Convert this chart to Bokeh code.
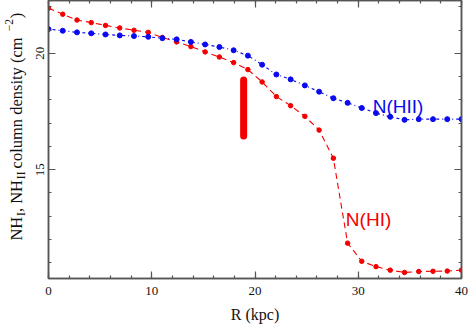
import math
from bokeh.plotting import figure
from bokeh.layouts import row
from bokeh.models import (LinearAxis, SingleIntervalTicker, Range1d, Label,
                          ColumnDataSource)
from bokeh.core.properties import value
from bokeh.embed import file_html
from bokeh.resources import INLINE

# ---------------- data ----------------
R_kpc = [0.0, 1.38, 2.76, 4.14, 5.52, 6.90, 8.28, 9.66, 11.03, 12.41,
         13.79, 15.17, 16.55, 17.93, 19.31, 20.69, 22.07, 23.45, 24.83, 26.21,
         27.59, 28.97, 30.34, 31.72, 33.10, 34.48, 35.86, 37.24, 38.62, 40.0]
N_HI = [21.94, 21.68, 21.43, 21.32, 21.20, 21.09, 20.99, 20.90, 20.68, 20.49,
        20.29, 20.06, 19.84, 19.60, 19.30, 18.77, 18.14, 17.75, 17.29, 16.70,
        15.49, 11.84, 11.06, 10.83, 10.68, 10.58, 10.62, 10.63, 10.64, 10.68]
N_HII = [21.04, 20.97, 20.90, 20.86, 20.81, 20.77, 20.74, 20.71, 20.65, 20.60,
         20.49, 20.38, 20.27, 20.13, 19.90, 19.51, 19.09, 18.88, 18.62, 18.35,
         18.07, 17.87, 17.65, 17.43, 17.27, 17.14, 17.17, 17.17, 17.17, 17.17]
bar_x = [18.9]
bar_low = [16.45]
bar_high = [18.85]
label_HII = ("N(HII)", 31.4, 17.73)
label_HI = ("N(HI)", 28.8, 12.87)

RED = "#f40000"
BLUE = "#0a0aee"
AX = "#555555"
SERIF = "Liberation Serif"
TXT = "#111111"

WL = 28      # width of the strip holding the y-axis title
H = 330
Y0, Y1 = 10.32, 22.27

p = figure(width=471 - WL, height=H, output_backend="svg", toolbar_location=None,
           x_range=Range1d(0, 40), y_range=Range1d(Y0, Y1),
           min_border_left=48 - WL, min_border_right=10, min_border_top=0,
           min_border_bottom=52, x_axis_location=None, y_axis_location=None)
p.grid.visible = False
p.outline_line_color = AX
p.outline_line_width = 1.5
p.background_fill_color = "white"
p.border_fill_color = "white"

def style(ax, labels=True):
    ax.axis_line_color = AX
    ax.axis_line_width = 1.5
    ax.major_tick_line_color = AX
    ax.minor_tick_line_color = AX
    ax.major_tick_line_width = 1.2
    ax.minor_tick_line_width = 1.2
    ax.major_tick_in = 7
    ax.major_tick_out = 0
    ax.minor_tick_in = 3
    ax.minor_tick_out = 0
    if labels:
        ax.major_label_text_font = SERIF
        ax.major_label_text_font_size = "13px"
        ax.major_label_text_color = TXT
    else:
        ax.major_label_text_font_size = "1px"
        ax.major_label_text_color = None
        ax.major_label_standoff = 0

xb = LinearAxis(ticker=SingleIntervalTicker(interval=10, num_minor_ticks=5))
style(xb)
xb.major_label_standoff = 8
xb.axis_label = "R (kpc)"
xb.axis_label_text_font = SERIF
xb.axis_label_text_font_size = "16px"
xb.axis_label_text_font_style = "normal"
xb.axis_label_text_color = TXT
xb.axis_label_standoff = 8
p.add_layout(xb, "below")

xt = LinearAxis(ticker=SingleIntervalTicker(interval=10, num_minor_ticks=5))
style(xt, labels=False)
p.add_layout(xt, "above")

yl = LinearAxis(ticker=SingleIntervalTicker(interval=5, num_minor_ticks=5))
style(yl)
yl.major_label_orientation = "vertical"
yl.major_label_standoff = 4
p.add_layout(yl, "left")

yr = LinearAxis(ticker=SingleIntervalTicker(interval=5, num_minor_ticks=5))
style(yr, labels=False)
p.add_layout(yr, "right")

src = ColumnDataSource(dict(r=R_kpc, hi=N_HI, hii=N_HII))
p.line("r", "hi", source=src, line_color=RED, line_width=1.1, line_dash="6 4")
p.scatter("r", "hi", source=src, size=4.5, fill_color=RED, line_color=RED)
p.line("r", "hii", source=src, line_color=BLUE, line_width=1.1, line_dash="1 3 3 3")
p.scatter("r", "hii", source=src, size=5, fill_color=BLUE, line_color=BLUE)

p.segment(x0=bar_x, y0=bar_low, x1=bar_x, y1=bar_high, line_color=RED,
          line_width=7, line_cap="round")

for (txt, lx, ly), col in ((label_HII, BLUE), (label_HI, RED)):
    p.add_layout(Label(x=lx, y=ly, text=txt, text_color=col,
                       text_font="Liberation Sans", text_font_size="19px",
                       text_align="left", text_baseline="alphabetic"))

# ---- strip on the left holding the rotated y-axis title.
# Its frame is aligned with the main frame, so it shares the same y scale.
t = figure(width=WL, height=H, output_backend="svg", toolbar_location=None,
           x_range=Range1d(0, WL), y_range=Range1d(Y0, Y1),
           min_border_left=0, min_border_right=0, min_border_top=0,
           min_border_bottom=0, x_axis_location=None, y_axis_location=None)
t.grid.visible = False
t.outline_line_color = None
t.background_fill_color = "white"
t.border_fill_color = "white"

PX = 275.0 / (Y1 - Y0)   # pixels per y unit of the aligned frame

# Times / Liberation Serif advance widths (em)
W = {'N': 0.722, 'H': 0.722, 'I': 0.333, ',': 0.25, ' ': 0.25, 'c': 0.444,
     'o': 0.5, 'l': 0.278, 'u': 0.5, 'm': 0.778, 'n': 0.5, 'd': 0.5,
     'e': 0.444, 's': 0.389, 'i': 0.278, 't': 0.278, 'y': 0.5, '(': 0.333,
     ')': 0.333, '\u2212': 0.564, '2': 0.5}
MAIN, SUB = 16.5, 11.5
# (text, font size, baseline shift, extra gap after)
pieces = [("NH", MAIN, 0, 0.5), ("I", SUB, 4.5, 0), (", NH", MAIN, 0, 0.5),
          ("II", SUB, 4.5, 3), (" column density (cm", MAIN, 0, 0.5),
          ("\u22122", SUB, -7, 0.5), (")", MAIN, 0, 0)]
base_x = 15.5
cur = 11.95      # y value (axis units) where the title starts
for txt, sz, off, gap in pieces:
    t.text(x=[base_x + off], y=[cur], text=[txt], angle=math.pi / 2,
           text_font=value(SERIF), text_font_size=f"{sz}px", text_color=TXT,
           text_align="left", text_baseline="alphabetic")
    cur += (sum(W.get(c, 0.5) for c in txt) * sz + gap) / PX

layout = row(t, p, spacing=0)
open("out.html", "w").write(file_html(layout, INLINE))
